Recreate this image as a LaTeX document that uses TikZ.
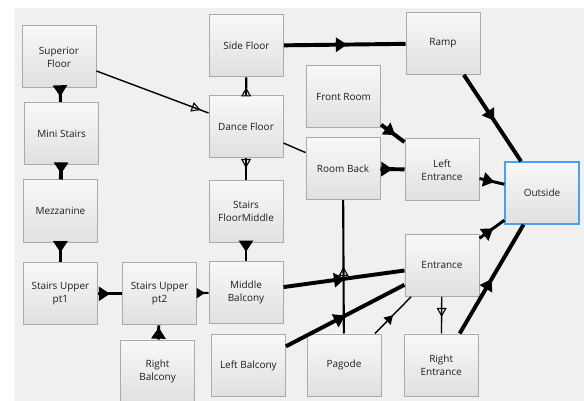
\documentclass[tikz,border=0pt]{standalone}
\usepackage{fontspec}
\setmainfont{Open Sans}
\usetikzlibrary{arrows.meta, decorations.markings}

\definecolor{panel}{RGB}{240,240,240}
\definecolor{boxtop}{RGB}{248,248,248}
\definecolor{boxbot}{RGB}{224,224,224}
\definecolor{boxline}{RGB}{170,170,170}
\definecolor{focus}{RGB}{70,160,245}
\definecolor{ink}{RGB}{30,30,30}

\begin{document}
\begin{tikzpicture}[
  >=Stealth,
  place/.style={
    draw=boxline,
    line width=0.7pt,
    top color=boxtop,
    bottom color=boxbot,
    minimum width=1.85cm,
    minimum height=1.55cm,
    inner sep=2pt,
    align=center,
    text=ink,
    font=\fontsize{7.1}{9.2}\selectfont
  },
  heavy link/.style={line width=2.8pt},
  bold link/.style={line width=2.1pt},
  mid link/.style={line width=1.5pt},
  thin link/.style={line width=1pt},
  big tip at/.style={
    postaction={decorate},
    decoration={markings, mark=at position #1 with {\arrow{Triangle[length=8pt, width=10pt]}}}
  },
  small tip at/.style={
    postaction={decorate},
    decoration={markings, mark=at position #1 with {\arrow{Triangle[length=6pt, width=7pt]}}}
  },
  open tip at/.style={
    postaction={decorate},
    decoration={markings, mark=at position #1 with {\arrow{Triangle[open, length=6.5pt, width=7pt, line width=0.8pt]}}}
  }
]

% canvas
\useasboundingbox (0, 0) rectangle (14.6, 10.025);
\fill[white] (0, 0) rectangle (14.6, 10.025);
\fill[panel] (0.375, 0) rectangle (14.6, 9.825);

% left column
\node[place] (superior) at (1.475, 8.6) {Superior\\Floor};
\node[place] (mini) at (1.54, 6.69) {Mini Stairs};
\node[place] (mezz) at (1.51, 4.75) {Mezzanine};
\node[place] (upper1) at (1.51, 2.68) {Stairs Upper\\pt1};
\node[place] (upper2) at (3.99, 2.68) {Stairs Upper\\pt2};
\node[place] (rbalc) at (3.94, 0.75) {Right\\Balcony};

% middle column
\node[place] (side) at (6.16, 8.88) {Side Floor};
\node[place] (dance) at (6.15, 6.85) {Dance Floor};
\node[place] (floormid) at (6.15, 4.74) {Stairs\\FloorMiddle};
\node[place] (midbalc) at (6.15, 2.72) {Middle\\Balcony};
\node[place] (lbalc) at (6.21, 0.88) {Left Balcony};

\node[place] (front) at (8.59, 7.6) {Front Room};
\node[place] (back) at (8.575, 5.81) {Room Back};
\node[place] (pagode) at (8.6, 0.9) {Pagode};

% right column
\node[place] (ramp) at (11.075, 8.94) {Ramp};
\node[place] (lent) at (11.05, 5.78) {Left\\Entrance};
\node[place] (ent) at (11.05, 3.39) {Entrance};
\node[place] (rent) at (11.03, 0.9) {Right\\Entrance};
\node[place, draw=focus, line width=0.9pt] (outside) at (13.55, 5.2) {Outside};

% links
\draw[bold link, big tip at=0.6] (superior) -- (mini);
\draw[heavy link, big tip at=0.6] (mini) -- (mezz);
\draw[bold link, big tip at=0.5] (mezz) -- (upper1);
\draw[bold link, big tip at=0.5] (upper1) -- (upper2);
\draw[mid link, small tip at=0.7] (upper2) -- (midbalc);
\draw[bold link, big tip at=0.85] (rbalc) -- (upper2);
\draw[bold link, big tip at=0.5] (floormid) -- (midbalc);
\draw[mid link, open tip at=0.45] (dance) -- (floormid);
\draw[mid link, open tip at=0.45] (dance) -- (side);
\draw[thin link, open tip at=0.93] (superior) -- (dance);
\draw[thin link] (dance) -- (back);
\draw[heavy link, big tip at=0.52] (side) -- (ramp);
\draw[heavy link, big tip at=0.53] (ramp) -- (outside);
\draw[heavy link, big tip at=0.6] (front) -- (lent);
\draw[heavy link, big tip at=0.5] (back) -- (lent);
\draw[bold link, big tip at=0.6] (lent) -- (outside);
\draw[bold link, big tip at=0.55] (ent) -- (outside);
\draw[heavy link, big tip at=0.5] (rent) -- (outside);
\draw[thin link, open tip at=0.55] (ent) -- (rent);
\draw[thin link, small tip at=0.5] (pagode) -- (ent);
\draw[mid link, open tip at=0.5] (pagode) -- (back);
\draw[heavy link, big tip at=0.51] (midbalc) -- (ent);
\draw[heavy link, big tip at=0.5] (lbalc) -- (ent);

\end{tikzpicture}
\end{document}
